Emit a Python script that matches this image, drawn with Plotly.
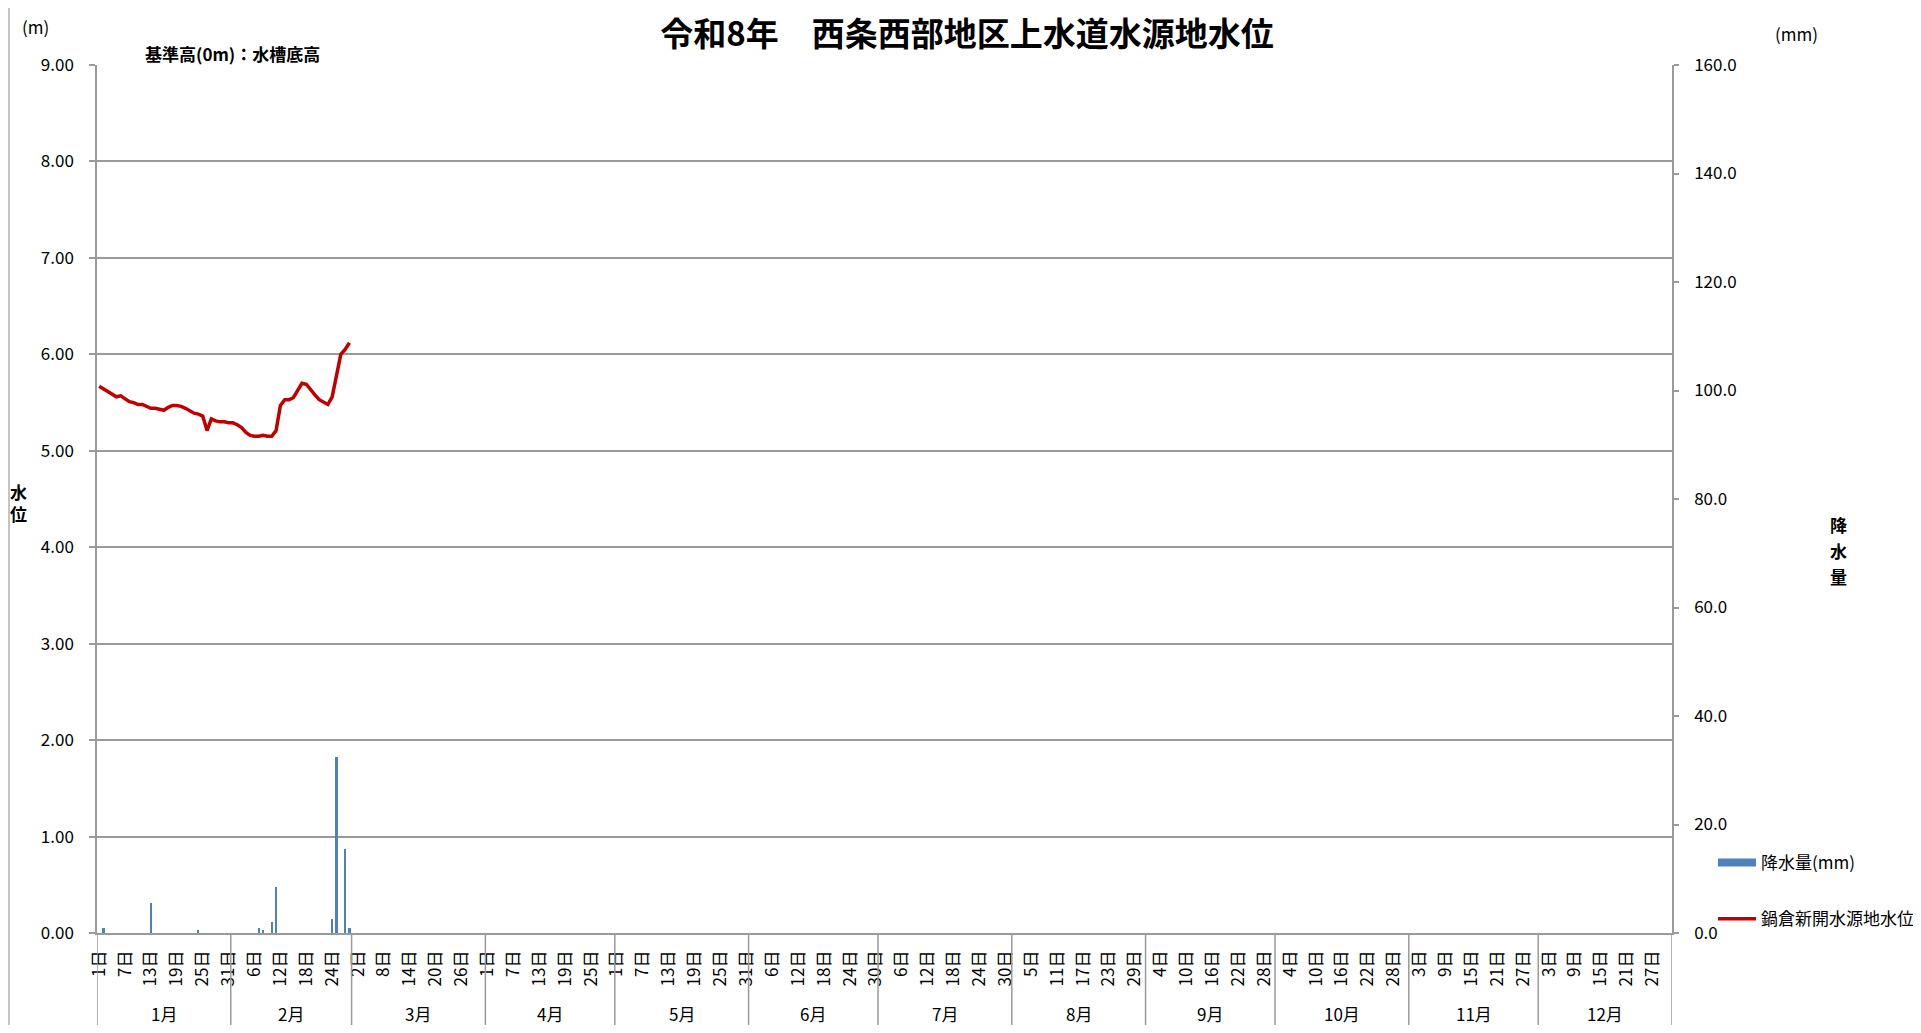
import pandas as pd
import plotly.graph_objects as go

# ---------------- data ----------------
dates = list(pd.date_range("2026-01-01", "2026-12-31", freq="D"))
day_index = list(range(len(dates)))
month_names = ["1月", "2月", "3月", "4月", "5月", "6月", "7月", "8月", "9月", "10月", "11月", "12月"]

# tick every 6th day of the year
tick_index = day_index[::6]
tick_labels = [f"{dates[i].day}日" for i in tick_index]

# observed days (1/1 - 2/28)
obs_index = list(range(59))

water_level = [
    5.67, 5.64, 5.61, 5.58, 5.56, 5.57, 5.54, 5.51, 5.50, 5.48,
    5.48, 5.46, 5.44, 5.44, 5.43, 5.42, 5.45, 5.47, 5.47, 5.46,
    5.44, 5.41, 5.39, 5.38, 5.36, 5.21, 5.33, 5.31, 5.30, 5.30,
    5.29,
    5.29, 5.27, 5.24, 5.19, 5.16, 5.15, 5.15, 5.16, 5.15, 5.15,
    5.21, 5.47, 5.53, 5.53, 5.55, 5.63, 5.70, 5.69, 5.63, 5.58,
    5.53, 5.50, 5.48, 5.56, 5.79, 6.00, 6.05, 6.12,
]

rainfall = [
    0.0, 1.0, 0.0, 0.0, 0.0, 0.0, 0.0, 0.0, 0.0, 0.0,
    0.0, 0.0, 5.5, 0.0, 0.0, 0.0, 0.0, 0.0, 0.0, 0.0,
    0.0, 0.0, 0.0, 0.5, 0.0, 0.0, 0.0, 0.0, 0.0, 0.0,
    0.0,
    0.0, 0.0, 0.0, 0.0, 0.0, 0.0, 1.0, 0.5, 0.0, 2.0,
    8.5, 0.0, 0.0, 0.0, 0.0, 0.0, 0.0, 0.0, 0.0, 0.0,
    0.0, 0.0, 0.0, 2.5, 32.5, 0.0, 15.5, 1.0,
]

# ---------------- style ----------------
FONT = "Noto Sans CJK JP"
GRID = "#9a9a9a"
BAR_COLOR = "#4F81BD"
LINE_COLOR = "#C00000"

OFF = 8                      # default page body margin
W, H = 1921 - 2 * OFF, 1033 - 2 * OFF
PLOT_L, PLOT_R, PLOT_T, PLOT_B = 97, 1672, 65, 933   # in screen pixels
ML = PLOT_L - OFF
MT = PLOT_T - OFF
MR = W - (PLOT_R - OFF)
MB = H - (PLOT_B - OFF)
PW = PLOT_R - PLOT_L
PH = PLOT_B - PLOT_T


def px_x(px):
    return (px - PLOT_L) / PW


def px_y(py):
    return (PLOT_B - py) / PH


fig = go.Figure()

fig.add_trace(go.Bar(
    x=obs_index, y=rainfall, yaxis="y2", name="降水量(mm)",
    marker=dict(color=BAR_COLOR, line=dict(width=0)), width=0.5,
    showlegend=False,
))
# legend stand-in for the bar series (wide rectangle key)
fig.add_trace(go.Scatter(
    x=[None], y=[None], yaxis="y2", mode="lines", name="降水量(mm)",
    line=dict(color=BAR_COLOR, width=8), legendgroup="a",
))
fig.add_trace(go.Scatter(
    x=obs_index, y=water_level, mode="lines", name="鍋倉新開水源地水位",
    line=dict(color=LINE_COLOR, width=3.5), legendgroup="b",
))

# month boundaries and labels
month_starts = [i for i, d in enumerate(dates) if d.day == 1]
bounds = month_starts + [len(dates)]
shapes = []
for b in bounds:
    shapes.append(dict(type="line", xref="x", yref="paper", x0=b - 0.5, x1=b - 0.5,
                       y0=0, y1=px_y(1027), line=dict(color=GRID, width=1.5)))
# chart border at the left edge
shapes.append(dict(type="line", xref="paper", yref="paper", x0=px_x(OFF + 1), x1=px_x(OFF + 1),
                   y0=px_y(H + OFF), y1=px_y(OFF), line=dict(color="#b0b0b0", width=1.5)))

TXT = dict(family=FONT, size=17, color="black")
annotations = []
for m in range(12):
    center = (bounds[m] + bounds[m + 1] - 1) / 2
    annotations.append(dict(x=center, xref="x", y=px_y(1013), yref="paper",
                            text=month_names[m], showarrow=False, font=TXT,
                            xanchor="center", yanchor="middle"))

annotations += [
    dict(x=px_x(35), y=px_y(27), text="(m)"),
    dict(x=px_x(1796), y=px_y(34), text="(mm)"),
    dict(x=px_x(232), y=px_y(54), text="<b>基準高(0m)：水槽底高</b>"),
    dict(x=px_x(18), y=px_y(502), text="<b>水<br>位</b>"),
]
for ch, py in zip("降水量", [524, 550, 576]):
    annotations.append(dict(x=px_x(1839), y=px_y(py), text=f"<b>{ch}</b>"))
for a in annotations:
    a.setdefault("xref", "paper")
    a.setdefault("yref", "paper")
    a.setdefault("showarrow", False)
    a.setdefault("font", TXT)
    a.setdefault("xanchor", "center")
    a.setdefault("yanchor", "middle")

fig.update_layout(
    width=W, height=H,
    margin=dict(l=ML, r=MR, t=MT, b=MB, autoexpand=False),
    paper_bgcolor="white", plot_bgcolor="white",
    font=TXT,
    title=dict(text="<b>令和8年　西条西部地区上水道水源地水位</b>", xref="container", yref="container",
               x=(967 - OFF) / W, y=1 - (34 - OFF) / H, xanchor="center", yanchor="middle",
               font=dict(family=FONT, size=33, color="black")),
    xaxis=dict(range=[-0.5, len(dates) - 0.5], tickmode="array", tickvals=tick_index,
               ticktext=tick_labels, tickangle=-90, ticks="", showgrid=False,
               showline=True, linecolor=GRID, linewidth=1.5, zeroline=False,
               tickfont=dict(family=FONT, size=17, color="black"), ticklabelstandoff=9),
    yaxis=dict(range=[0, 9], dtick=1, tickformat=".2f", showgrid=True, gridcolor=GRID,
               gridwidth=1.5, showline=True, linecolor=GRID, linewidth=1.5, ticks="outside",
               ticklen=6, tickcolor=GRID, tickwidth=1.5, zeroline=False,
               tickfont=TXT, ticklabelstandoff=12),
    yaxis2=dict(range=[0, 160], dtick=20, tickformat=".1f", overlaying="y", side="right",
                showgrid=False, showline=True, linecolor=GRID, linewidth=1.5, ticks="outside",
                ticklen=5, tickcolor=GRID, tickwidth=1.5, zeroline=False,
                tickfont=TXT, ticklabelstandoff=12),
    legend=dict(x=px_x(1713), y=px_y(845), xanchor="left", yanchor="top",
                font=TXT, itemwidth=38, tracegroupgap=31, traceorder="grouped",
                bgcolor="rgba(0,0,0,0)"),
    shapes=shapes, annotations=annotations, bargap=0,
    showlegend=True,
)

fig.write_html("out.html")
